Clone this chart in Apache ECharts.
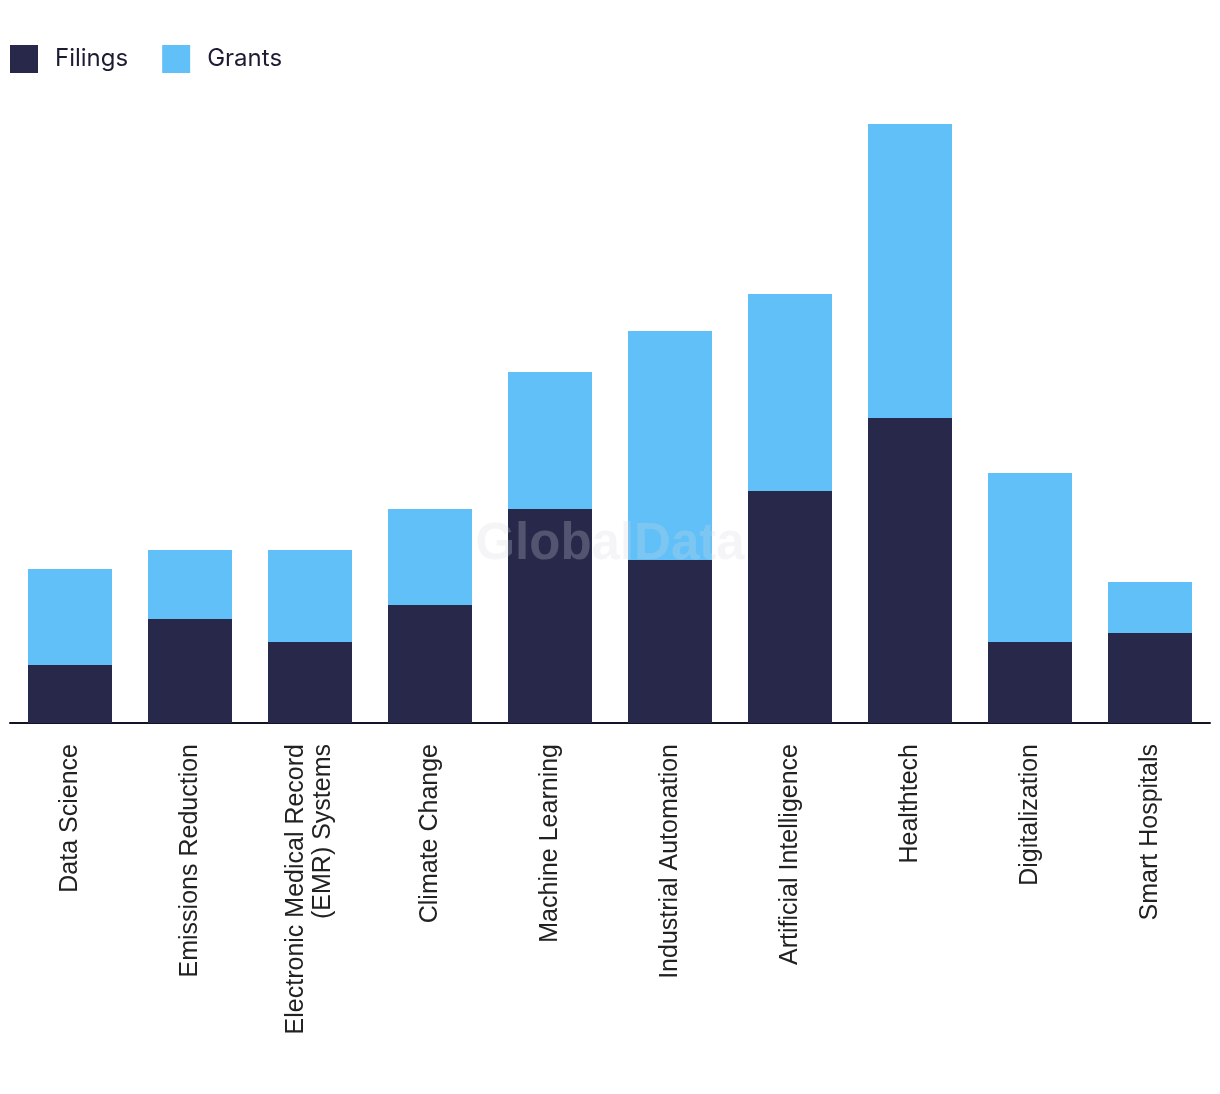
<!DOCTYPE html>
<html><head><meta charset="utf-8">
<script src="https://cdn.jsdelivr.net/npm/echarts@6/dist/echarts.min.js"></script>
<style>html,body{margin:0;padding:0;background:#fff}#c{width:1220px;height:1094px}</style>
</head><body><div id="c"></div>
<script>
const categories = ["Data Science","Emissions Reduction","Electronic Medical Record\n(EMR) Systems","Climate Change","Machine Learning","Industrial Automation","Artificial Intelligence","Healthtech","Digitalization","Smart Hospitals"];
const filings = [58,104,81,118,214,163,232,305,81,90];
const grants = [96,69,92,96,137,229,197,294,169,51];

const chart = echarts.init(document.getElementById('c'));
chart.setOption({
  animation:false,
  backgroundColor:'#fff',
  legend:{
    left:10, top:45, padding:0, itemWidth:28, itemHeight:28, itemGap:34, icon:'rect',
    textStyle:{fontFamily:'Inter', fontSize:24, color:'#1b1c33', padding:[0,0,0,12]},
    data:['Filings','Grants']
  },
  grid:{left:10,right:10,top:124,bottom:371,containLabel:false},
  xAxis:{
    type:'category', data:categories,
    axisLine:{lineStyle:{color:'#121326',width:2}},
    axisTick:{show:false},
    axisLabel:{rotate:90, margin:21, fontFamily:'Liberation Sans', fontSize:25, color:'#222', lineHeight:27, interval:0}
  },
  yAxis:{type:'value', min:0, max:599, show:false, splitLine:{show:false}},
  graphic:[{type:'text', left:'center', top:519, z:100, style:{text:'GlobalData', fontFamily:'Liberation Sans', fontWeight:'bold', fontSize:51, fill:'rgba(215,215,225,0.25)'}}],
  series:[
    {name:'Filings', type:'bar', stack:'a', data:filings, barWidth:'70%', itemStyle:{color:'#27284a'}},
    {name:'Grants', type:'bar', stack:'a', data:grants, barWidth:'70%', itemStyle:{color:'#61c0f8'}}
  ]
});
</script></body></html>
